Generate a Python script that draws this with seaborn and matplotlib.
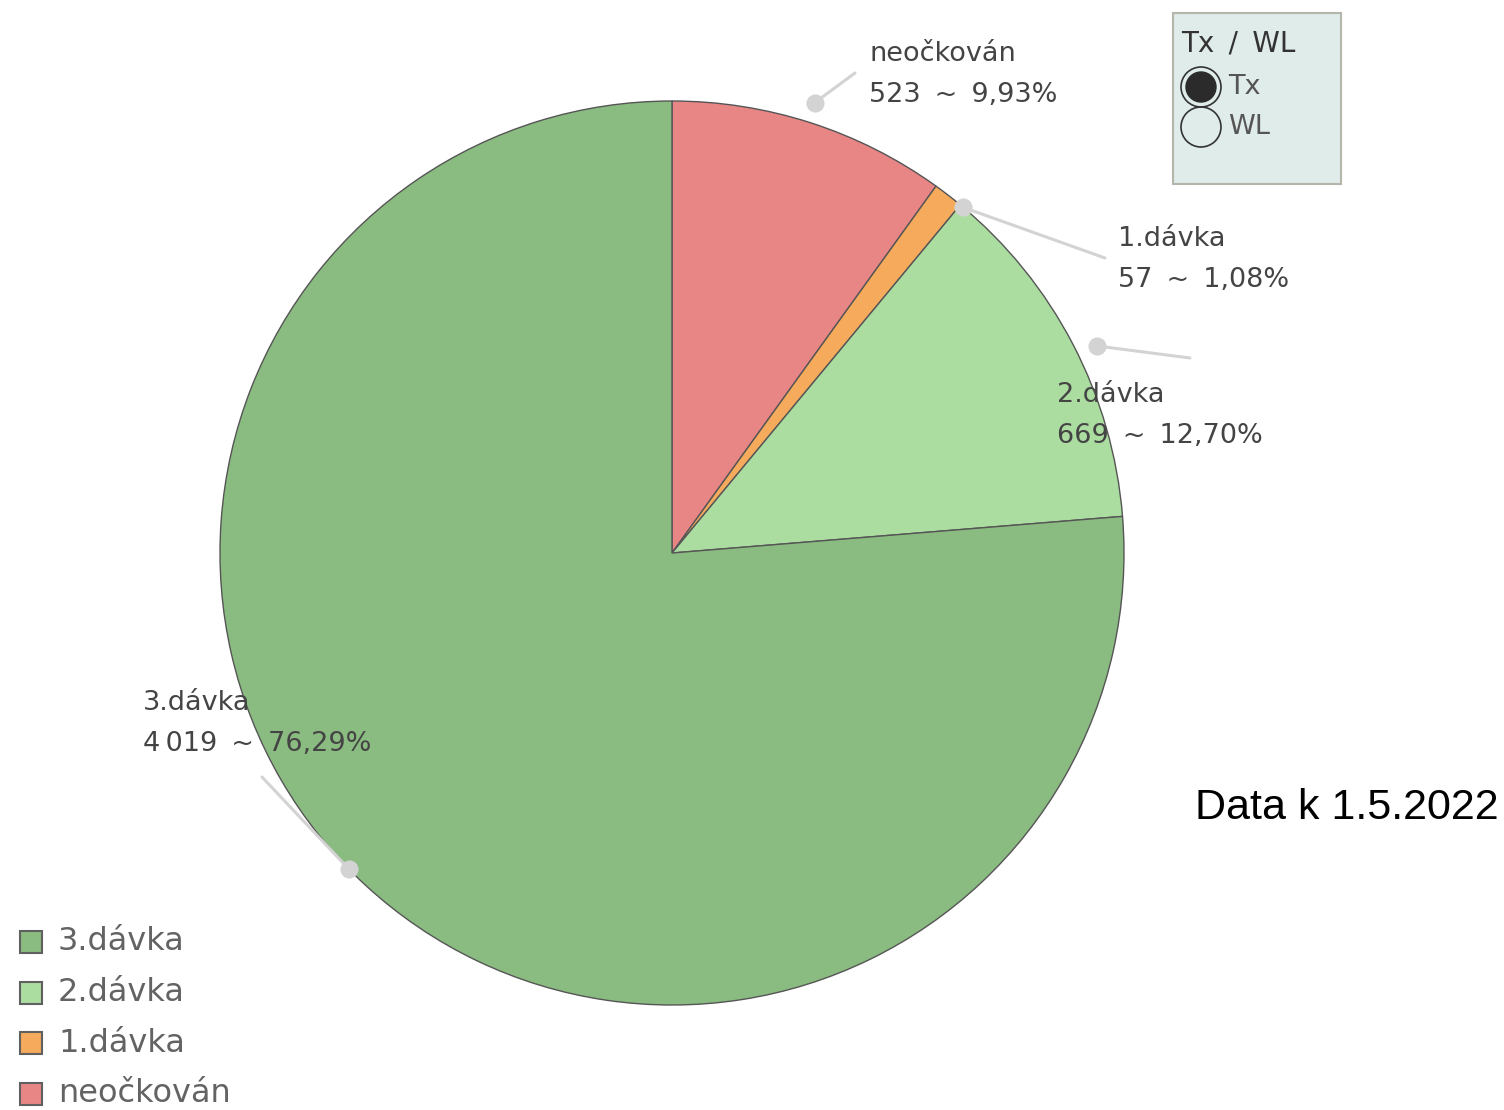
import numpy as np
import matplotlib
matplotlib.use("Agg")
import matplotlib.pyplot as plt
import seaborn as sns
from matplotlib.patches import Rectangle, Circle

# =========================
# DATA
# =========================

categories = ["neočkován", "1.dávka", "2.dávka", "3.dávka"]
counts = [523, 57, 669, 4019]
percents = ["9,93%", "1,08%", "12,70%", "76,29%"]
count_labels = ["523", "57", "669", "4\u2009019"]
colors = ["#E88686", "#F5AA5C", "#ABDDA0", "#8ABB80"]

legend_order = ["3.dávka", "2.dávka", "1.dávka", "neočkován"]
radio_title = "Tx / WL"
radio_options = ["Tx", "WL"]
note = "Data k 1.5.2022"

sns.set_theme(style="white")
plt.rcParams["font.family"] = ["DejaVu Sans"]

W, H = 1504, 1110
fig = plt.figure(figsize=(W / 100, H / 100), dpi=100)
ax = fig.add_axes([0, 0, 1, 1])

# pie in pixel coords (y flipped)
cx, cy, R = 672, H - 553, 452
wedges, _ = ax.pie(counts, colors=colors, startangle=90, counterclock=False,
                   center=(cx, cy), radius=R, frame=True,
                   wedgeprops=dict(edgecolor="#555555", linewidth=1.0))
ax.set_xlim(0, W)
ax.set_ylim(0, H)
ax.set_aspect("equal")
ax.axis("off")

# =========================
# LABELS WITH LEADERS
# =========================

label_pos = {
    "neočkován": (869, 54),
    "1.dávka": (1118, 239),
    "2.dávka": (1057, 395),
    "3.dávka": (143, 703),
}
line_end = {
    "neočkován": (855, 73),
    "1.dávka": (1105, 258),
    "2.dávka": (1190, 358),
    "3.dávka": (262, 777),
}
dot_r = {"neočkován": 1.045, "1.dávka": 1.0, "2.dávka": 1.045, "3.dávka": 1.0}
dot_shift = {"neočkován": 0.3, "1.dávka": 0.0, "2.dávka": -1.5, "3.dávka": -3.0}

for w, cat, cnt, pct in zip(wedges, categories, count_labels, percents):
    mid = (w.theta1 + w.theta2) / 2
    if cat == "1.dávka":
        mid = min(w.theta1, w.theta2) - 0.5
    mid = np.deg2rad(mid + dot_shift[cat])
    px = cx + R * dot_r[cat] * np.cos(mid)
    py = cy + R * dot_r[cat] * np.sin(mid)
    ex, ey = line_end[cat]
    ax.plot([px, ex], [py, H - ey], color="#D3D3D3", lw=2.2, zorder=5)
    ax.scatter([px], [py], s=170, color="#D3D3D3", zorder=6, linewidths=0)
    tx, ty = label_pos[cat]
    ax.text(tx, H - ty, cat, fontsize=19.5, color="#444444", va="center", ha="left", zorder=7)
    ax.text(tx, H - ty - 41, f"{cnt} \u2009~\u2009 {pct}", fontsize=19.5, color="#444444",
            va="center", ha="left", zorder=7)

# =========================
# LEGEND
# =========================

for i, cat in enumerate(legend_order):
    y = H - (942 + i * 50.5)
    col = colors[categories.index(cat)]
    ax.add_patch(Rectangle((20, y - 11), 22, 22, facecolor=col, edgecolor="#606060", lw=1.5))
    ax.text(58, y, cat, fontsize=23, color="#636363", va="center", ha="left")

# =========================
# RADIO BOX
# =========================

ax.add_patch(Rectangle((1173, H - 184), 168, 171, facecolor="#DFECE9",
                       edgecolor="#B5B5AC", lw=1.5))
ax.text(1181, H - 44, "Tx\u2009 / \u2009WL", fontsize=20, color="#333333", va="center", ha="left")
for i, opt in enumerate(radio_options):
    y = H - (87 + i * 40)
    ax.add_patch(Circle((1201, y), 20, facecolor="none", edgecolor="#333333", lw=1.2))
    if i == 0:
        ax.add_patch(Circle((1201, y), 15, facecolor="#2B2B2B", edgecolor="#2B2B2B"))
    ax.text(1228, y, opt, fontsize=19.5, color="#555555", va="center", ha="left")

ax.text(1195, H - 808, note, fontsize=31, color="black", va="center", ha="left",
        family=["Liberation Sans", "DejaVu Sans"])

fig.savefig("out.png", dpi=100)
